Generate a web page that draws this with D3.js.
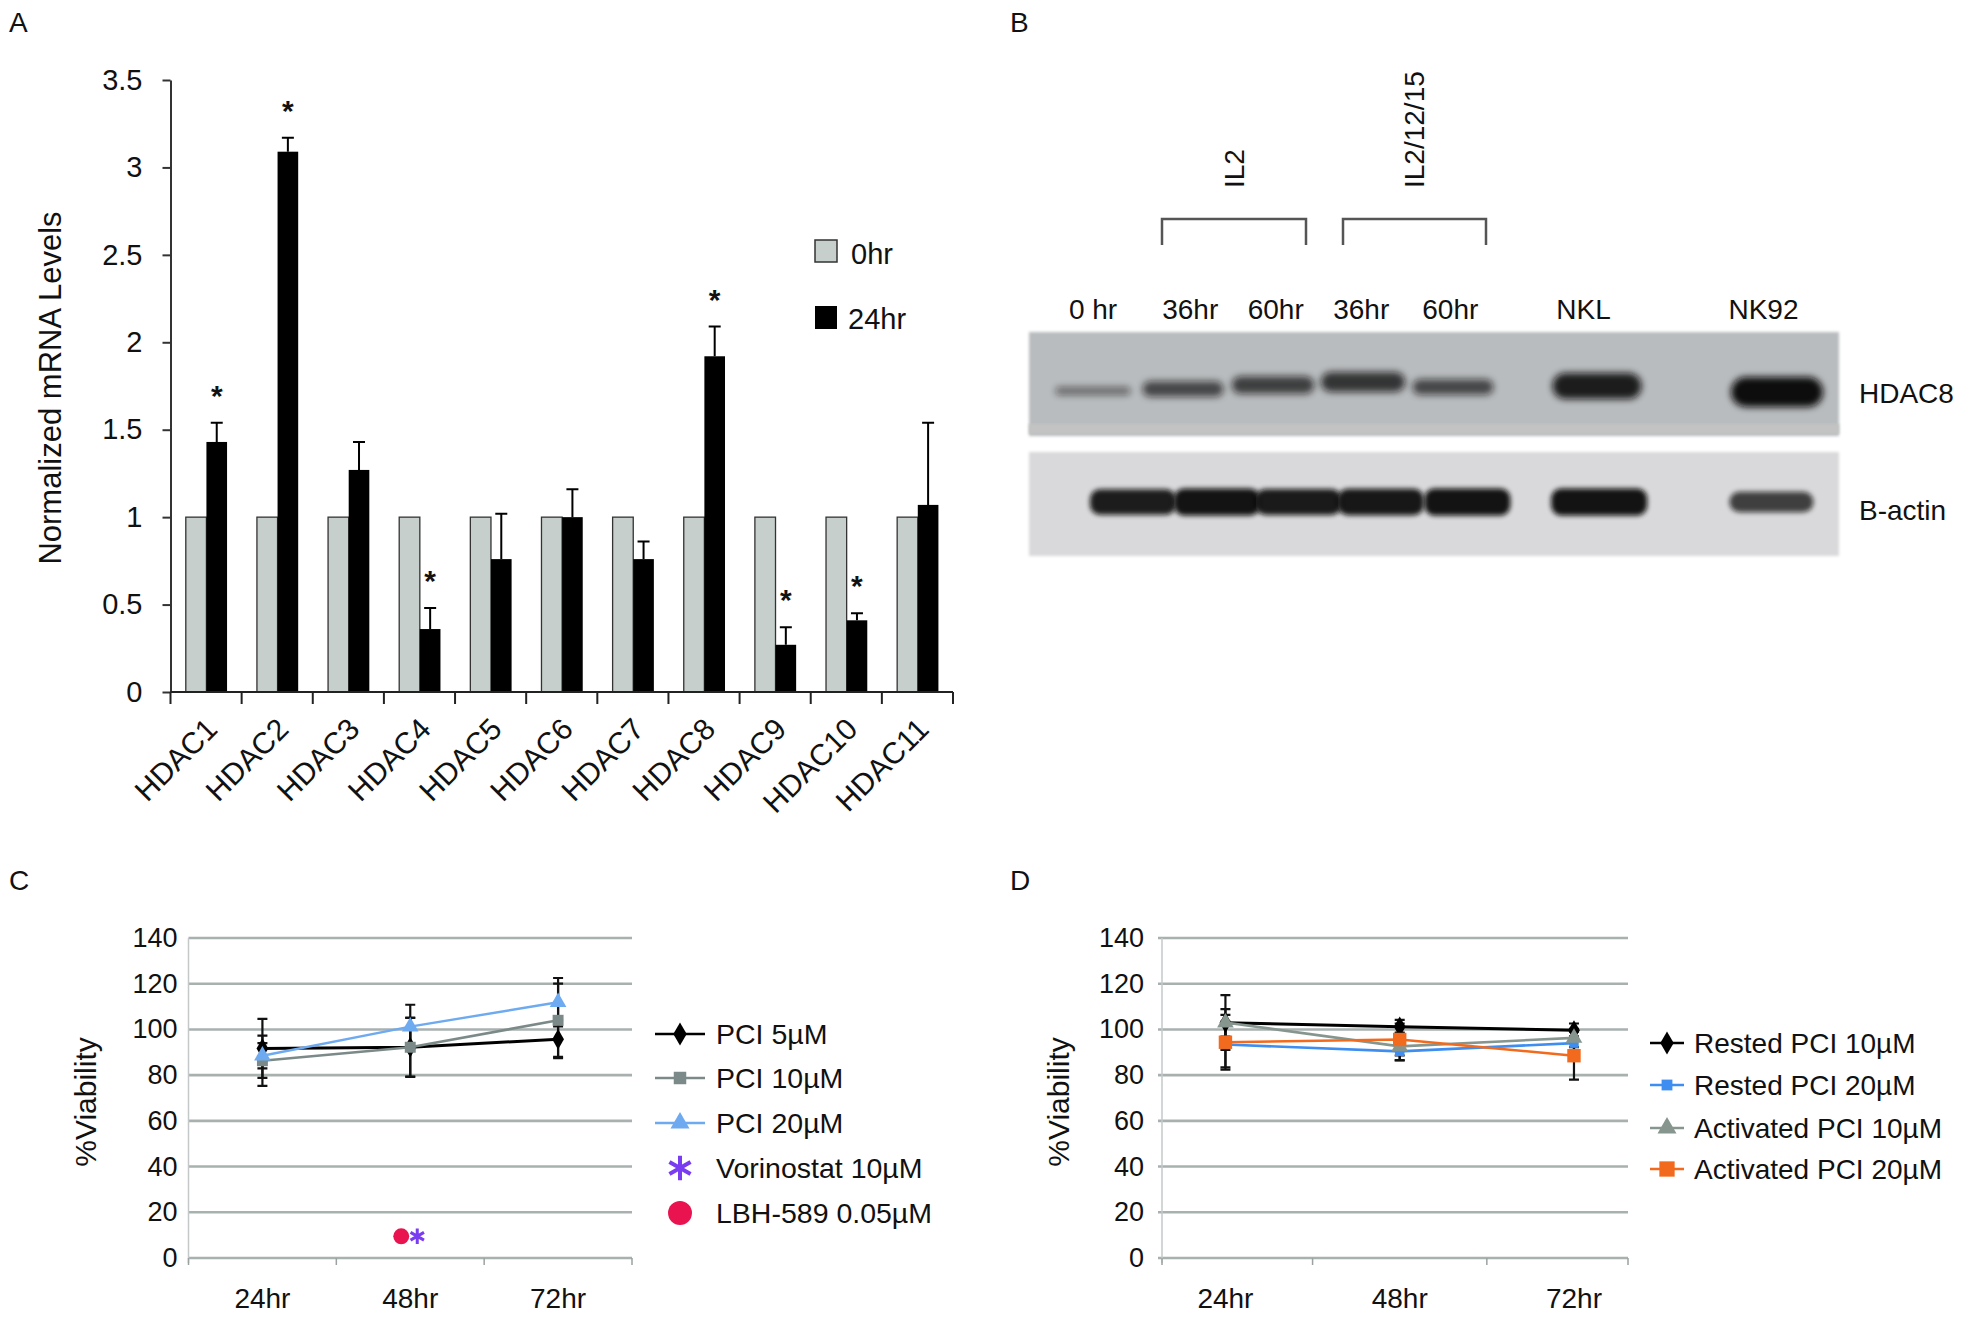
<!DOCTYPE html>
<html><head><meta charset="utf-8">
<script src="https://cdn.jsdelivr.net/npm/d3@7"></script>
<style>
body{margin:0;background:#fff}
svg{display:block}
text{font-family:"Liberation Sans",Arial,Helvetica,sans-serif;fill:#111}
</style>
</head><body>
<svg id="fig" width="1963" height="1321"></svg>
<script>
// ---------------- DATA ----------------
// Panel A
const hdacGenes = ["HDAC1","HDAC2","HDAC3","HDAC4","HDAC5","HDAC6","HDAC7","HDAC8","HDAC9","HDAC10","HDAC11"];
const mrna0hr   = [1,1,1,1,1,1,1,1,1,1,1];
const mrna24hr  = [1.43,3.09,1.27,0.36,0.76,1.00,0.76,1.92,0.27,0.41,1.07];
const mrna24hrErr = [0.11,0.08,0.16,0.12,0.26,0.16,0.10,0.17,0.10,0.04,0.47];
const mrnaSignif = [true,true,false,true,false,false,false,true,true,true,false];
const mrnaTicks = [0,0.5,1,1.5,2,2.5,3,3.5];
const mrnaSeries = ["0hr","24hr"];

// Panel B (western blot)
const laneLabels = ["0 hr","36hr","60hr","36hr","60hr","NKL","NK92"];
const hdac8Intensity = [0.15,0.45,0.52,0.62,0.45,0.85,1.00];
const actinIntensity = [0.88,0.95,0.90,0.92,0.95,0.95,0.62];
const bracketGroups = [{label:"IL2", lanes:[1,2]},{label:"IL2/12/15", lanes:[3,4]}];
const blotRows = ["HDAC8","B-actin"];

// Panel C
const timePoints = ["24hr","48hr","72hr"];
const viabTicks = [0,20,40,60,80,100,120,140];
const pci5   = [91.7,92.2,95.7];  const pci5Err  = [12.9,12.8,8.3];
const pci10  = [86.3,92.2,104.0]; const pci10Err = [11.0,13.0,16.0];
const pci20  = [88.5,101.2,111.9];const pci20Err = [5.5,9.6,10.6];
const vorinostat = [{t:"48hr", v:9.5}];
const lbh589     = [{t:"48hr", v:9.5}];

// Panel D
const restedPci10 = [102.9,101.2,99.6]; const restedPci10Err = [6,3,3];
const restedPci20 = [93.4,90.4,94.0];   const restedPci20Err = [10,4,3];
const actPci10    = [103.0,92.6,96.3];  const actPci10Err    = [12,6,4];
const actPci20    = [94.4,95.6,88.5];   const actPci20Err    = [12,7,10.5];

// ---------------- DRAWING ----------------
const svg = d3.select("#fig");
const defs = svg.append("defs");
defs.append("filter").attr("id","blurBand").attr("x","-50%").attr("y","-100%").attr("width","200%").attr("height","300%")
  .append("feGaussianBlur").attr("stdDeviation","3.5");
defs.append("filter").attr("id","blurActin").attr("x","-50%").attr("y","-100%").attr("width","200%").attr("height","300%")
  .append("feGaussianBlur").attr("stdDeviation","2.5");
defs.append("filter").attr("id","blurSoft")
  .append("feGaussianBlur").attr("stdDeviation","1.5");

function panelLabel(txt,x,y){
  svg.append("text").attr("x",x).attr("y",y).attr("font-size",28).text(txt);
}
panelLabel("A",9,32); panelLabel("B",1010,32); panelLabel("C",9,890); panelLabel("D",1010,890);

// ===== Panel A =====
(function(){
  const g = svg.append("g");
  const x = d3.scaleBand().domain(hdacGenes).range([170.5,953]);
  const bw = x.bandwidth();
  const xs = d3.scaleBand().domain(mrnaSeries).range([0.215*bw,0.795*bw]);
  const y = d3.scaleLinear().domain([0,3.5]).range([692,80]);

  const rows = hdacGenes.map((k,i)=>({k, v0:mrna0hr[i], v1:mrna24hr[i], e:mrna24hrErr[i], s:mrnaSignif[i]}));
  g.selectAll(".b0").data(rows).join("rect")
    .attr("x",d=>x(d.k)+xs("0hr")).attr("width",xs.bandwidth())
    .attr("y",d=>y(d.v0)).attr("height",d=>y(0)-y(d.v0))
    .attr("fill","#c6cfcb").attr("stroke","#333").attr("stroke-width",1.3);
  g.selectAll(".b1").data(rows).join("rect")
    .attr("x",d=>x(d.k)+xs("24hr")).attr("width",xs.bandwidth())
    .attr("y",d=>y(d.v1)).attr("height",d=>y(0)-y(d.v1))
    .attr("fill","#000");
  const cx = d=>x(d.k)+xs("24hr")+xs.bandwidth()/2;
  g.selectAll(".eb").data(rows).join("path")
    .attr("d",d=>`M${cx(d)},${y(d.v1)}V${y(d.v1+d.e)}M${cx(d)-6},${y(d.v1+d.e)}H${cx(d)+6}`)
    .attr("stroke","#000").attr("stroke-width",2).attr("fill","none");
  g.selectAll(".ast").data(rows.filter(d=>d.s)).join("text")
    .attr("x",cx).attr("y",d=>y(d.v1+d.e)-17).attr("text-anchor","middle")
    .attr("font-size",30).attr("font-weight","bold").text("*");

  const ya = g.append("g").attr("transform","translate(170.5,0)")
    .call(d3.axisLeft(y).tickValues(mrnaTicks).tickSize(8).tickSizeOuter(0).tickFormat(d=>String(d)));
  ya.selectAll("path,line").attr("stroke","#333").attr("stroke-width",2);
  ya.selectAll("text").attr("font-size",29).attr("fill","#111").attr("x",-28).attr("font-family",'"Liberation Sans",Arial,sans-serif');

  const bounds = hdacGenes.map(k=>x(k)).concat([x.range()[1]]);
  g.append("line").attr("x1",170.5).attr("x2",953).attr("y1",692).attr("y2",692).attr("stroke","#222").attr("stroke-width",2);
  g.selectAll(".xt").data(bounds).join("line")
    .attr("x1",d=>d).attr("x2",d=>d).attr("y1",692).attr("y2",704).attr("stroke","#222").attr("stroke-width",2);
  g.selectAll(".xl").data(hdacGenes).join("text")
    .attr("transform",k=>`translate(${x(k)+bw/2+13},${731}) rotate(-45)`)
    .attr("text-anchor","end").attr("font-size",30).text(k=>k);

  g.append("text").attr("transform","translate(61,388) rotate(-90)").attr("text-anchor","middle")
    .attr("font-size",31).text("Normalized mRNA Levels");

  const lg = g.append("g");
  lg.append("rect").attr("x",815).attr("y",240).attr("width",22).attr("height",22).attr("fill","#c6cfcb").attr("stroke","#333").attr("stroke-width",1.5);
  lg.append("text").attr("x",851).attr("y",254).attr("dominant-baseline","central").attr("font-size",29).text(mrnaSeries[0]);
  lg.append("rect").attr("x",815).attr("y",306).attr("width",22).attr("height",23).attr("fill","#000");
  lg.append("text").attr("x",848).attr("y",319).attr("dominant-baseline","central").attr("font-size",29).text(mrnaSeries[1]);
})();

// ===== Panel B =====
(function(){
  const g = svg.append("g");
  const blotX0 = 1029, blotX1 = 1839;
  const topY = 332, topH = 104, botY = 452, botH = 104;
  const laneSlots = [0,1,2,3,4,5.6,7.6];
  const slot = d3.scaleLinear().domain([0,1]).range([1093,1183]);
  const actinSlot = d3.scaleLinear().domain([0,1]).range([1133,1217]);
  const actinSlots = [0,1,1.97,2.95,3.98,5.55,7.6];

  g.append("rect").attr("x",blotX0).attr("y",topY).attr("width",blotX1-blotX0).attr("height",topH)
    .attr("fill","#b9bcbe").attr("filter","url(#blurSoft)");
  g.append("rect").attr("x",blotX0).attr("y",topY+topH-12).attr("width",blotX1-blotX0).attr("height",10)
    .attr("fill","#c3c3c3").attr("filter","url(#blurSoft)");
  g.append("rect").attr("x",blotX0).attr("y",botY).attr("width",blotX1-blotX0).attr("height",botH)
    .attr("fill","#d9d9db").attr("filter","url(#blurSoft)");

  const bandY = [391,389,385,382,387,386,392];
  g.selectAll(".hb").data(hdac8Intensity).join("rect")
    .attr("x",(d,i)=>slot(laneSlots[i])-(36+10*d)).attr("width",d=>72+20*d)
    .attr("y",(d,i)=>bandY[i]-(4+26*d)/2).attr("height",d=>4+26*d)
    .attr("rx",d=>(4+26*d)/2)
    .attr("fill","#0c0c0c").attr("opacity",d=>0.4+0.6*d).attr("filter","url(#blurBand)");
  g.selectAll(".ab").data(actinIntensity).join("rect")
    .attr("x",(d,i)=>actinSlot(actinSlots[i])-(i===5?48:i===6?42:43)).attr("width",(d,i)=>i===5?96:i===6?84:86)
    .attr("y",d=>502-(8+20*d)/2).attr("height",d=>8+20*d)
    .attr("rx",10)
    .attr("fill","#0a0a0a").attr("opacity",d=>0.35+0.65*d).attr("filter","url(#blurActin)");

  const labelSlots = [0,1.08,2.03,2.98,3.97,5.45,7.45];
  g.selectAll(".ll").data(laneLabels).join("text")
    .attr("x",(d,i)=>slot(labelSlots[i])).attr("y",309).attr("text-anchor","middle")
    .attr("dominant-baseline","central").attr("font-size",28).text(d=>d);

  g.selectAll(".rl").data(blotRows).join("text")
    .attr("x",1859).attr("y",(d,i)=>i===0?393:510).attr("dominant-baseline","central")
    .attr("font-size",28).text(d=>d);

  const brX = [[1162,1306],[1343,1486]];
  bracketGroups.forEach((b,i)=>{
    const [a,c] = brX[i];
    g.append("path").attr("d",`M${a},245V219H${c}V245`).attr("fill","none").attr("stroke","#555").attr("stroke-width",2.5);
    g.append("text").attr("transform",`translate(${(a+c)/2},188) rotate(-90)`)
      .attr("dominant-baseline","central").attr("font-size",28).text(b.label);
  });
})();

// ===== Panels C & D =====
function viabPanel(opt){
  const g = svg.append("g");
  const x = d3.scaleLinear().domain(opt.xDomain).range([opt.x0,opt.x1]);
  const y = d3.scaleLinear().domain([0,140]).range([1258,938]);
  g.selectAll(".gl").data(viabTicks).join("line")
    .attr("x1",opt.x0-opt.gridExt).attr("x2",opt.x1).attr("y1",d=>y(d)).attr("y2",d=>y(d))
    .attr("stroke","#a9b1b0").attr("stroke-width",2.6);
  g.append("line").attr("x1",opt.x0).attr("x2",opt.x0).attr("y1",y(140)).attr("y2",y(0)+5).attr("stroke","#c4c8c8").attr("stroke-width",1.5);
  const bnds = [opt.x0, x(0.5), x(1.5), opt.x1];
  g.selectAll(".bt").data(bnds).join("line")
    .attr("x1",d=>d).attr("x2",d=>d).attr("y1",y(0)).attr("y2",y(0)+7).attr("stroke","#9aa2a2").attr("stroke-width",1.5);
  g.selectAll(".yl").data(viabTicks).join("text")
    .attr("x",opt.x0-opt.labGap).attr("y",d=>y(d)).attr("text-anchor","end").attr("dominant-baseline","central")
    .attr("font-size",27).text(d=>d);
  g.selectAll(".xl").data(timePoints).join("text")
    .attr("x",(d,i)=>x(i)).attr("y",1298).attr("text-anchor","middle").attr("dominant-baseline","central")
    .attr("font-size",28).text(d=>d);
  g.append("text").attr("transform",`translate(${opt.yLabX},1102) rotate(-90)`).attr("text-anchor","middle")
    .attr("dominant-baseline","central").attr("font-size",30).text("%Viability");

  const line = d3.line().x((d,i)=>x(i)).y(d=>y(d));
  opt.series.forEach(s=>{
    s.values.forEach((v,i)=>{
      const e = s.err[i], xx = x(i);
      g.append("path").attr("d",`M${xx},${y(v-e)}V${y(v+e)}M${xx-5},${y(v-e)}H${xx+5}M${xx-5},${y(v+e)}H${xx+5}`)
        .attr("stroke","#111").attr("stroke-width",2.2).attr("fill","none");
    });
  });
  opt.series.forEach(s=>{
    g.append("path").datum(s.values).attr("d",line).attr("fill","none").attr("stroke",s.color).attr("stroke-width",s.lw||2.6);
    g.selectAll(null).data(s.values).join("path")
      .attr("transform",(d,i)=>`translate(${x(i)},${y(d)})`)
      .attr("d",d3.symbol().type(s.symbol).size(s.size)).attr("fill",s.color);
  });
  const lg = g.append("g");
  opt.series.concat(opt.extra||[]).forEach((s,i)=>{
    const ly = opt.legY[i];
    if(!s.noLine) lg.append("line").attr("x1",opt.legX0).attr("x2",opt.legX1).attr("y1",ly).attr("y2",ly).attr("stroke",s.color).attr("stroke-width",2.6);
    const m = lg.append("path").attr("transform",`translate(${(opt.legX0+opt.legX1)/2},${ly})`)
      .attr("d",d3.symbol().type(s.symbol).size(s.legSize||s.size*1.3));
    if(s.stroke) m.attr("fill","none").attr("stroke",s.color).attr("stroke-width",4);
    else m.attr("fill",s.color);
    lg.append("text").attr("x",opt.legText).attr("y",ly).attr("dominant-baseline","central").attr("font-size",opt.legFont).text(s.name);
  });
  return {g,x,y};
}

const C = viabPanel({
  x0:188.5, x1:632, xDomain:[-0.5,2.5], gridExt:0, labGap:11, yLabX:85,
  series:[
    {name:"PCI 5\u00b5M", values:pci5, err:pci5Err, color:"#000", symbol:d3.symbolDiamond, size:120, lw:3},
    {name:"PCI 10\u00b5M", values:pci10, err:pci10Err, color:"#7b8a88", symbol:d3.symbolSquare, size:120},
    {name:"PCI 20\u00b5M", values:pci20, err:pci20Err, color:"#6eaaf0", symbol:d3.symbolTriangle, size:120, lw:2.4}
  ],
  extra:[
    {name:"Vorinostat 10\u00b5M", color:"#7a3cf0", symbol:d3.symbolAsterisk, noLine:true, stroke:true, legSize:420},
    {name:"LBH-589 0.05\u00b5M", color:"#e8134f", symbol:d3.symbolCircle, noLine:true, legSize:450}
  ],
  legY:[1034,1078,1123,1168,1213], legX0:655, legX1:705, legText:716, legFont:28.5
});
C.g.selectAll(".vor").data(vorinostat).join("path")
  .attr("transform",d=>`translate(${C.x(timePoints.indexOf(d.t))+7},${C.y(d.v)})`)
  .attr("d",d3.symbol().type(d3.symbolAsterisk).size(170)).attr("fill","none").attr("stroke","#7a3cf0").attr("stroke-width",3);
C.g.selectAll(".lbh").data(lbh589).join("path")
  .attr("transform",d=>`translate(${C.x(timePoints.indexOf(d.t))-9},${C.y(d.v)})`)
  .attr("d",d3.symbol().type(d3.symbolCircle).size(200)).attr("fill","#e8134f");

viabPanel({
  x0:1162, x1:1628, xDomain:[-0.364,2.31], gridExt:4, labGap:18, yLabX:1058,
  series:[
    {name:"Rested PCI 10\u00b5M", values:restedPci10, err:restedPci10Err, color:"#000", symbol:d3.symbolDiamond, size:120, lw:3},
    {name:"Rested PCI 20\u00b5M", values:restedPci20, err:restedPci20Err, color:"#3d8ef0", symbol:d3.symbolSquare, size:90},
    {name:"Activated PCI 10\u00b5M", values:actPci10, err:actPci10Err, color:"#86968f", symbol:d3.symbolTriangle, size:120},
    {name:"Activated PCI 20\u00b5M", values:actPci20, err:actPci20Err, color:"#f26a1d", symbol:d3.symbolSquare, size:180}
  ],
  legY:[1043,1085,1128,1169], legX0:1650, legX1:1684, legText:1694, legFont:28
});
</script>
</body></html>
